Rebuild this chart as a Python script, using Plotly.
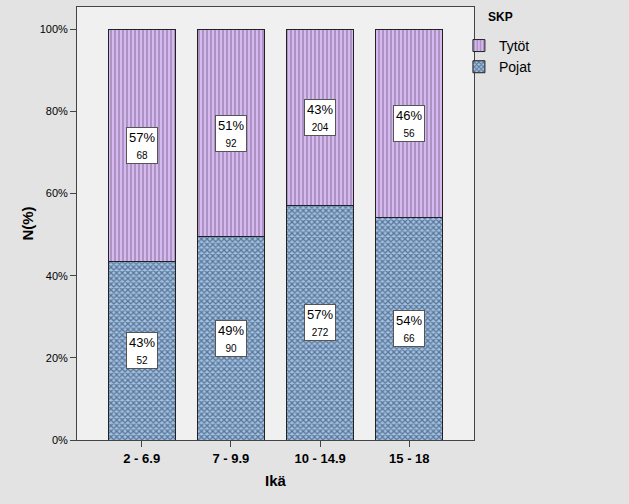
import plotly.graph_objects as go

categories = ["2 - 6.9", "7 - 9.9", "10 - 14.9", "15 - 18"]
pojat_n = [52, 90, 272, 66]
tytot_n = [68, 92, 204, 56]
y_ticks = [0, 20, 40, 60, 80, 100]
y_tick_labels = ["0%", "20%", "40%", "60%", "80%", "100%"]

tot = [a + b for a, b in zip(pojat_n, tytot_n)]
pojat_p = [a / t * 100 for a, t in zip(pojat_n, tot)]
tytot_p = [b / t * 100 for b, t in zip(tytot_n, tot)]

FONT = "Liberation Sans, Arial, sans-serif"
x_idx = list(range(len(categories)))

fig = go.Figure()
fig.add_trace(go.Bar(
    x=x_idx, y=pojat_p, name="Pojat", width=0.75,
    marker=dict(color="#a0c2e6", line=dict(color="#222222", width=1),
                pattern=dict(shape="x", size=4, solidity=0.55, fgcolor="#1a2840", bgcolor="#a0c2e6")),
))
fig.add_trace(go.Bar(
    x=x_idx, y=tytot_p, name="Tytöt", width=0.75,
    marker=dict(color="#dcbdf4", line=dict(color="#222222", width=1),
                pattern=dict(shape="|", size=4, solidity=0.55, fgcolor="#7a6a92", bgcolor="#dcbdf4")),
))

annots = []
for i in x_idx:
    for pct, n, base in ((pojat_p[i], pojat_n[i], 0), (tytot_p[i], tytot_n[i], pojat_p[i])):
        annots.append(dict(
            x=i, y=base + pct / 2, xref="x", yref="y", showarrow=False,
            text=f"{round(pct)}%<br><span style='font-size:10px'>{n}</span>",
            font=dict(family=FONT, size=13, color="#000000"),
            bgcolor="#ffffff", bordercolor="#555555", borderwidth=1, borderpad=2,
            align="center",
        ))
annots.append(dict(x=1.03, y=0.977, xref="paper", yref="paper", xanchor="left", yanchor="middle",
                   showarrow=False, text="<b>SKP</b>", font=dict(family=FONT, size=12, color="#000")))
fig.update_layout(
    width=629, height=504,
    margin=dict(l=77, r=155, t=7, b=64),
    barmode="stack",
    paper_bgcolor="#e3e3e3", plot_bgcolor="#f0f0f0",
    font=dict(family=FONT, color="#000"),
    annotations=annots,
    legend=dict(x=0.962, y=0.947, xanchor="left", yanchor="top",
                traceorder="reversed", font=dict(family=FONT, size=14, color="#000"),
                bgcolor="rgba(0,0,0,0)", itemwidth=30, tracegroupgap=0),
    xaxis=dict(range=[-0.725, 3.725], tickvals=x_idx,
               ticktext=[f"<b>{c}</b>" for c in categories],
               tickfont=dict(family=FONT, size=13, color="#000"), ticks="outside", ticklen=6,
               tickcolor="#444", showline=True, linecolor="#444", linewidth=1, mirror=True,
               showgrid=False, zeroline=False,
               title=dict(text="<b>Ikä</b>", font=dict(family=FONT, size=15), standoff=10)),
    yaxis=dict(range=[0, 105.4], tickvals=y_ticks, ticktext=y_tick_labels,
               tickfont=dict(family=FONT, size=11, color="#000"), ticks="outside", ticklen=6,
               tickcolor="#444", showline=True, linecolor="#444", linewidth=1, mirror=True,
               showgrid=False, zeroline=False,
               title=dict(text="<b>N(%)</b>", font=dict(family=FONT, size=15), standoff=2)),
)
fig.write_html("out.html", config={"displayModeBar": False},
               post_script="document.body.style.margin='0';document.body.style.background='#e3e3e3';")
